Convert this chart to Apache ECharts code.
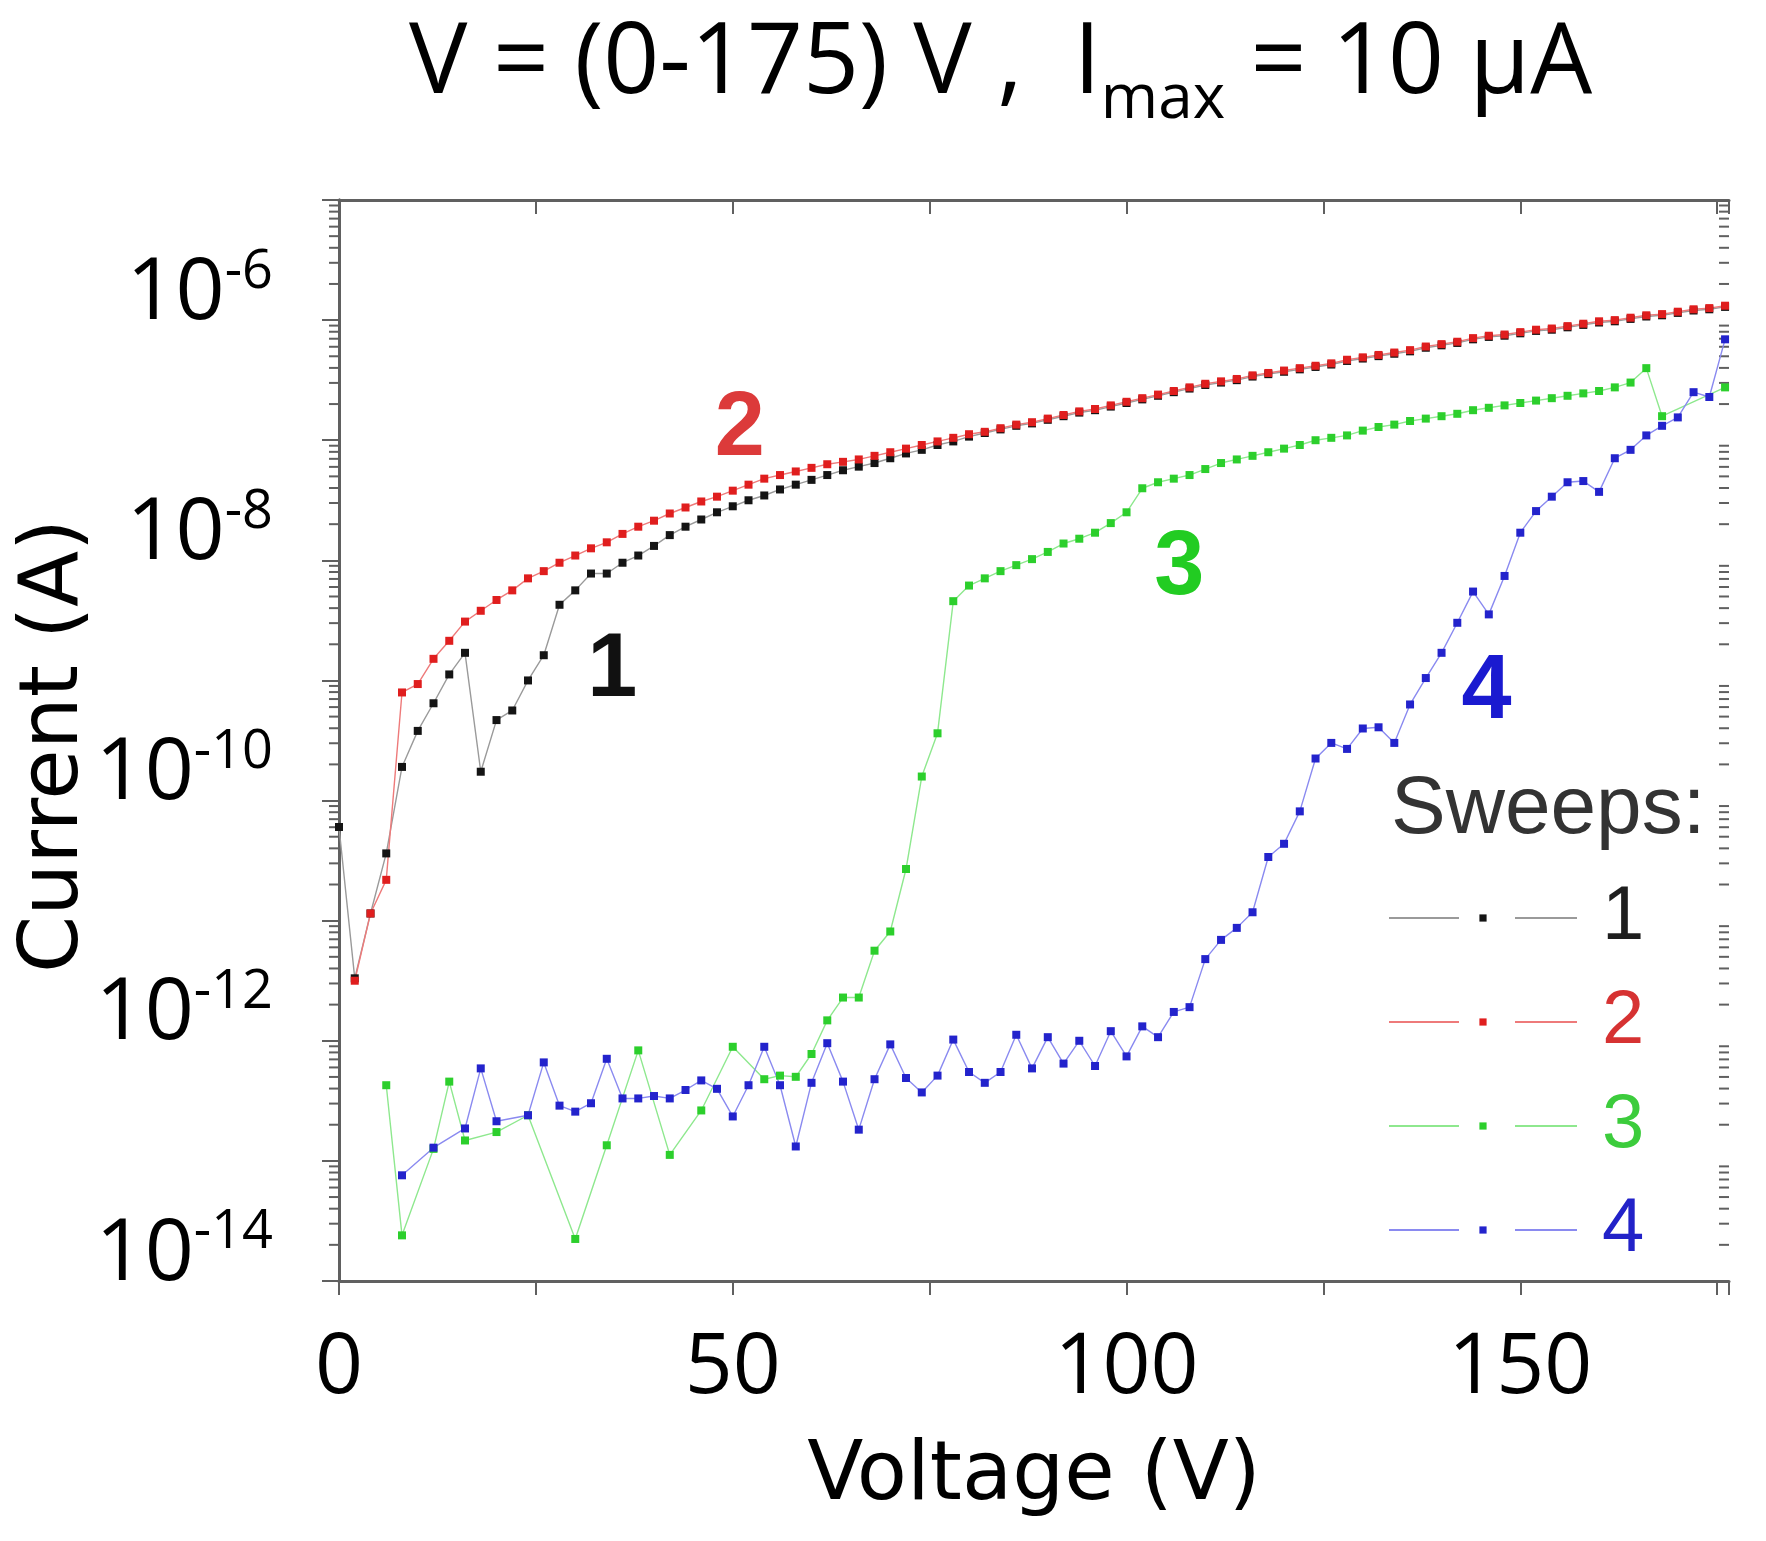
<!DOCTYPE html>
<html><head><meta charset="utf-8">
<script src="https://cdn.jsdelivr.net/npm/echarts@6/dist/echarts.min.js"></script>
<style>html,body{margin:0;padding:0;background:#fff}#c{width:1766px;height:1541px}</style>
</head><body><div id="c"></div><script>
// ---- Data (voltage in V, current given as log10 of amperes) ----
const sweep1V = [0,2,4,6,8,10,12,14,16,18,20,22,24,26,28,30,32,34,36,38,40,42,44,46,48,50,52,54,56,58,60,62,64,66,68,70,72,74,76,78,80,82,84,86,88,90,92,94,96,98,100,102,104,106,108,110,112,114,116,118,120,122,124,126,128,130,132,134,136,138,140,142,144,146,148,150,152,154,156,158,160,162,164,166,168,170,172,174,176];
const sweep1LogI = [-10.22,-11.48,-10.94,-10.44,-9.72,-9.42,-9.19,-8.95,-8.77,-9.76,-9.33,-9.25,-9.00,-8.79,-8.37,-8.25,-8.11,-8.11,-8.02,-7.96,-7.88,-7.79,-7.72,-7.66,-7.60,-7.55,-7.50,-7.46,-7.41,-7.37,-7.33,-7.29,-7.25,-7.22,-7.19,-7.15,-7.11,-7.08,-7.04,-7.01,-6.97,-6.94,-6.91,-6.88,-6.86,-6.83,-6.80,-6.77,-6.75,-6.72,-6.69,-6.66,-6.63,-6.60,-6.57,-6.54,-6.52,-6.50,-6.47,-6.45,-6.43,-6.41,-6.39,-6.37,-6.34,-6.32,-6.30,-6.28,-6.26,-6.23,-6.21,-6.19,-6.16,-6.14,-6.13,-6.11,-6.09,-6.08,-6.06,-6.04,-6.02,-6.01,-5.99,-5.97,-5.96,-5.94,-5.92,-5.91,-5.89];

const sweep2V = [2,4,6,8,10,12,14,16,18,20,22,24,26,28,30,32,34,36,38,40,42,44,46,48,50,52,54,56,58,60,62,64,66,68,70,72,74,76,78,80,82,84,86,88,90,92,94,96,98,100,102,104,106,108,110,112,114,116,118,120,122,124,126,128,130,132,134,136,138,140,142,144,146,148,150,152,154,156,158,160,162,164,166,168,170,172,174,176];
const sweep2LogI = [-11.50,-10.94,-10.66,-9.10,-9.03,-8.82,-8.67,-8.51,-8.42,-8.33,-8.25,-8.15,-8.09,-8.02,-7.96,-7.90,-7.85,-7.78,-7.72,-7.67,-7.61,-7.56,-7.51,-7.47,-7.42,-7.37,-7.32,-7.29,-7.26,-7.23,-7.20,-7.18,-7.16,-7.13,-7.10,-7.07,-7.04,-7.01,-6.98,-6.95,-6.93,-6.90,-6.87,-6.85,-6.82,-6.79,-6.76,-6.74,-6.71,-6.68,-6.65,-6.62,-6.59,-6.56,-6.53,-6.51,-6.49,-6.46,-6.44,-6.42,-6.40,-6.38,-6.36,-6.33,-6.31,-6.29,-6.27,-6.25,-6.22,-6.20,-6.18,-6.15,-6.13,-6.12,-6.10,-6.08,-6.07,-6.05,-6.03,-6.01,-6.00,-5.98,-5.96,-5.95,-5.93,-5.91,-5.90,-5.88];

const sweep3V = [6,8,12,14,16,20,24,30,34,38,42,46,50,54,56,58,60,62,64,66,68,70,72,74,76,78,80,82,84,86,88,90,92,94,96,98,100,102,104,106,108,110,112,114,116,118,120,122,124,126,128,130,132,134,136,138,140,142,144,146,148,150,152,154,156,158,160,162,164,166,168,176];
const sweep3LogI = [-12.37,-13.62,-12.90,-12.34,-12.83,-12.76,-12.62,-13.65,-12.87,-12.08,-12.95,-12.58,-12.05,-12.32,-12.29,-12.30,-12.11,-11.83,-11.64,-11.64,-11.25,-11.09,-10.57,-9.80,-9.44,-8.34,-8.21,-8.15,-8.09,-8.04,-7.99,-7.93,-7.86,-7.82,-7.77,-7.69,-7.60,-7.40,-7.35,-7.32,-7.29,-7.24,-7.19,-7.16,-7.13,-7.10,-7.07,-7.04,-7.00,-6.98,-6.96,-6.92,-6.89,-6.87,-6.84,-6.82,-6.80,-6.78,-6.75,-6.73,-6.71,-6.69,-6.67,-6.65,-6.63,-6.61,-6.59,-6.56,-6.52,-6.40,-6.80,-6.56];

const sweep4V = [8,12,16,18,20,24,26,28,30,32,34,36,38,40,42,44,46,48,50,52,54,56,58,60,62,64,66,68,70,72,74,76,78,80,82,84,86,88,90,92,94,96,98,100,102,104,106,108,110,112,114,116,118,120,122,124,126,128,130,132,134,136,138,140,142,144,146,148,150,152,154,156,158,160,162,164,166,168,170,172,174,176];
const sweep4LogI = [-13.12,-12.89,-12.73,-12.23,-12.67,-12.62,-12.18,-12.54,-12.59,-12.52,-12.15,-12.48,-12.48,-12.46,-12.48,-12.41,-12.33,-12.40,-12.63,-12.37,-12.05,-12.37,-12.88,-12.35,-12.02,-12.34,-12.74,-12.32,-12.03,-12.31,-12.43,-12.29,-11.99,-12.26,-12.35,-12.26,-11.95,-12.23,-11.97,-12.19,-12.00,-12.21,-11.92,-12.13,-11.88,-11.97,-11.76,-11.72,-11.32,-11.16,-11.06,-10.93,-10.47,-10.36,-10.09,-9.65,-9.52,-9.57,-9.40,-9.39,-9.52,-9.20,-8.98,-8.77,-8.52,-8.26,-8.45,-8.13,-7.77,-7.59,-7.47,-7.35,-7.34,-7.43,-7.15,-7.08,-6.96,-6.88,-6.81,-6.60,-6.64,-6.16];

const sweepNames = ['1','2','3','4'];
// annotation anchors: [voltage, log10 current]
const annot1 = [34.7, -8.92];
const annot2 = [50.9, -6.92];
const annot3 = [106.7, -8.07];
const annot4 = [145.7, -9.11];

const xTickLabels = [0, 50, 100, 150];
const yLabelExponents = [-14, -12, -10, -8, -6];
const minorMantissas = [2,3,4,5,6,7,8,9];
const minorDecades = [-14,-13,-12,-11,-10,-9,-8,-7,-6];

// ---- Build ----
const X_MIN = 0, X_MAX = 176.5, Y_MIN = 1e-14, Y_MAX = 1e-5;
const pairs = (vs, ls) => vs.map((v, i) => [v, Math.pow(10, ls[i])]);
const minorTicks = [];
minorDecades.forEach(d => minorMantissas.forEach(m => minorTicks.push([X_MIN, m * Math.pow(10, d)])));

const AX = '#606060';
const FONT = 'Open Sans';
const NFONT = 'DejaVu Sans';
const LFONT = 'Liberation Sans';

function mkSeries(name, vs, ls, symColor, lineColor, annot, annColor) {
  return {
    name, type: 'line', data: pairs(vs, ls), symbol: 'rect', symbolSize: 8,
    itemStyle: { color: symColor }, lineStyle: { color: lineColor, width: 1.4 },
    emphasis: { disabled: true },
    markPoint: {
      symbol: 'circle', symbolSize: 1, itemStyle: { color: 'rgba(0,0,0,0)' },
      label: { show: true, formatter: name, fontFamily: LFONT, fontWeight: 'bold', fontSize: 90, color: annColor },
      data: [{ coord: [annot[0], Math.pow(10, annot[1])] }]
    }
  };
}

const chart = echarts.init(document.getElementById('c'));
const axisCommonX = { type: 'value', min: X_MIN, max: X_MAX, interval: 25, splitLine: { show: false },
  axisLine: { show: true, onZero: false, lineStyle: { color: AX, width: 3 } } };
const axisCommonY = { type: 'log', logBase: 10, min: Y_MIN, max: Y_MAX, interval: 1, splitNumber: 9, splitLine: { show: false },
  axisLine: { show: true, lineStyle: { color: AX, width: 3 } } };

chart.setOption({
  backgroundColor: '#ffffff',
  animation: false,
  title: [
    { text: '{a|V = (0-175) V ,  I}{s|max}{a| = 10 μA}', left: 404, top: -6,
      textStyle: { rich: {
        a: { fontFamily: FONT, fontWeight: 'normal', fontSize: 98, color: '#000' },
        s: { fontFamily: FONT, fontWeight: 'normal', fontSize: 62, color: '#000', padding: [70, 0, 0, 0] } } } },
    { text: 'Sweeps:', left: 1386, top: 764, textStyle: { fontFamily: LFONT, fontSize: 82, fontWeight: 'normal', color: '#333' } }
  ],
  graphic: [
    { type: 'text', x: 56, y: 746, rotation: Math.PI / 2, silent: true,
      style: { text: 'Current (A)', x: 0, y: 0, font: '82px "DejaVu Sans"', fill: '#000',
               align: 'center', verticalAlign: 'middle', textAlign: 'center', textVerticalAlign: 'middle' } }
  ],
  grid: { left: 339, right: 37, top: 200, bottom: 260, containLabel: false, outerBoundsMode: 'none' },
  legend: {
    orient: 'vertical', left: 1383, top: 872, itemWidth: 188, itemHeight: 9, itemGap: 22,
    selectedMode: false,
    lineStyle: { type: [70, 56], width: 2 },
    textStyle: { fontFamily: LFONT, fontSize: 76, lineHeight: 82, padding: [0, 0, 0, 20] },
    data: [
      { name: '1', textStyle: { color: '#1e1e1e' } },
      { name: '2', textStyle: { color: '#d63232' } },
      { name: '3', textStyle: { color: '#3ccc3c' } },
      { name: '4', textStyle: { color: '#2222c8' } }
    ]
  },
  xAxis: [
    Object.assign({}, axisCommonX, { position: 'bottom',
      axisTick: { show: true, inside: false, length: 14, lineStyle: { color: AX, width: 2 } },
      axisLabel: { margin: 46, fontFamily: FONT, fontSize: 84, color: '#000',
        formatter: v => xTickLabels.indexOf(v) >= 0 ? String(v) : '' },
      name: 'Voltage (V)', nameLocation: 'middle', nameGap: 156,
      nameTextStyle: { fontFamily: NFONT, fontSize: 82, color: '#000' } }),
    Object.assign({}, axisCommonX, { position: 'top',
      axisTick: { show: true, inside: true, length: 14, lineStyle: { color: AX, width: 2 } },
      axisLabel: { show: false } })
  ],
  yAxis: [
    Object.assign({}, axisCommonY, { position: 'left',
      axisTick: { show: true, inside: false, length: 17, lineStyle: { color: AX, width: 2 } },
      axisLabel: { margin: 66, padding: [0, 0, 52, 0],
        formatter: v => { const e = Math.round(Math.log10(v)); return yLabelExponents.indexOf(e) >= 0 ? '{b|10}{s|' + e + '}' : ''; },
        rich: { b: { fontFamily: FONT, fontSize: 86, color: '#000' },
                s: { fontFamily: FONT, fontSize: 54, color: '#000', padding: [0, 0, 44, 0] } } } }),
    Object.assign({}, axisCommonY, { position: 'right',
      axisTick: { show: true, inside: true, length: 17, lineStyle: { color: AX, width: 2 } },
      axisLabel: { show: false } })
  ],
  series: [
    {
      type: 'custom', name: 'minorTicks', silent: true, z: 1, clip: false,
      xAxisIndex: 0, yAxisIndex: 0, data: minorTicks,
      renderItem: (params, api) => {
        const pL = api.coord([X_MIN, api.value(1)]);
        const pR = api.coord([X_MAX, api.value(1)]);
        return { type: 'group', children: [
          { type: 'line', shape: { x1: pL[0] - 10, y1: pL[1], x2: pL[0], y2: pL[1] }, style: { stroke: AX, lineWidth: 2 } },
          { type: 'line', shape: { x1: pR[0] - 10, y1: pR[1], x2: pR[0], y2: pR[1] }, style: { stroke: AX, lineWidth: 2 } }
        ] };
      }
    },
    mkSeries(sweepNames[0], sweep1V, sweep1LogI, '#141414', '#9a9a9a', annot1, '#111111'),
    mkSeries(sweepNames[1], sweep2V, sweep2LogI, '#e01e1e', '#ee7a7a', annot2, '#dc3a3a'),
    mkSeries(sweepNames[2], sweep3V, sweep3LogI, '#2ccf2c', '#8ee88e', annot3, '#22cc22'),
    mkSeries(sweepNames[3], sweep4V, sweep4LogI, '#2323cc', '#8a8af0', annot4, '#1a1ad0')
  ]
});
</script></body></html>
